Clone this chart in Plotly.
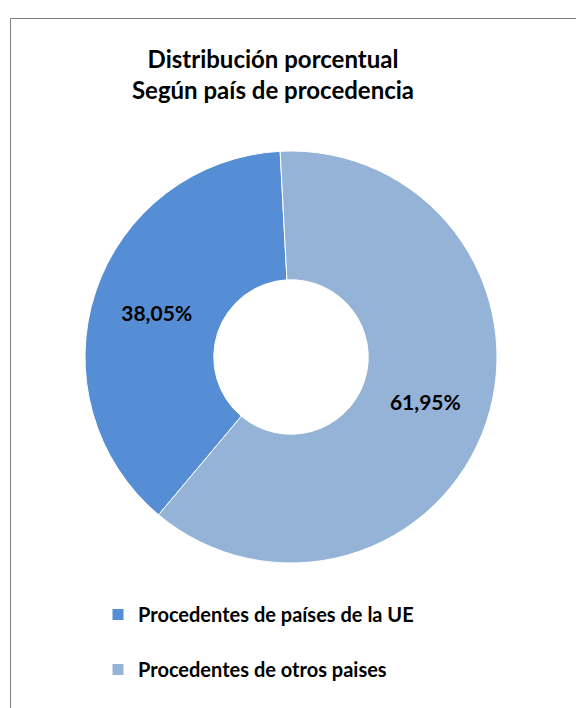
import plotly.graph_objects as go

categories = ["Procedentes de países de la UE", "Procedentes de otros paises"]
values = [38.05, 61.95]
value_labels = ["38,05%", "61,95%"]
colors = ["#558ED5", "#95B3D7"]
title_lines = ["Distribución porcentual", "Según país de procedencia"]

W, H = 576, 708
cx, cy, r = 291, 357, 206

legend_labels = [c + "<br> " for c in categories]

fig = go.Figure(go.Pie(
    labels=legend_labels,
    values=values,
    text=value_labels,
    textinfo="text",
    textposition="inside",
    insidetextorientation="horizontal",
    textfont=dict(family="Lato", size=21, color="#000000", weight="bold"),
    marker=dict(colors=colors, line=dict(color="white", width=1)),
    hole=0.375,
    sort=False,
    direction="clockwise",
    rotation=220,
    domain=dict(x=[(cx - r) / W, (cx + r) / W], y=[(H - cy - r) / H, (H - cy + r) / H]),
    hoverinfo="skip",
))

border = dict(color="#7f7f7f", width=1)
fig.update_layout(
    width=W, height=H,
    margin=dict(l=0, r=0, t=0, b=0, autoexpand=False),
    paper_bgcolor="white",
    plot_bgcolor="white",
    title=dict(
        text="<br>".join(title_lines),
        x=273 / W, xanchor="center",
        y=1 - 68 / H, yanchor="top",
        font=dict(family="Lato", size=24, color="#000000", weight="bold"),
    ),
    showlegend=True,
    legend=dict(
        xref="container", yref="container",
        x=98 / W, xanchor="left",
        y=1 - 595 / H, yanchor="top",
        valign="top",
        font=dict(family="Lato", size=20, color="#000000", weight="bold"),
        itemwidth=30,
        bgcolor="rgba(0,0,0,0)",
    ),
    shapes=[
        dict(type="line", xref="paper", yref="paper",
             x0=10.5 / W, x1=10.5 / W, y0=0, y1=1 - 18.5 / H, line=border),
        dict(type="line", xref="paper", yref="paper",
             x0=10.5 / W, x1=1, y0=1 - 18.5 / H, y1=1 - 18.5 / H, line=border),
    ],
)

fig.write_html("out.html", config={"displayModeBar": False},
               post_script="document.body.style.margin='0';")
